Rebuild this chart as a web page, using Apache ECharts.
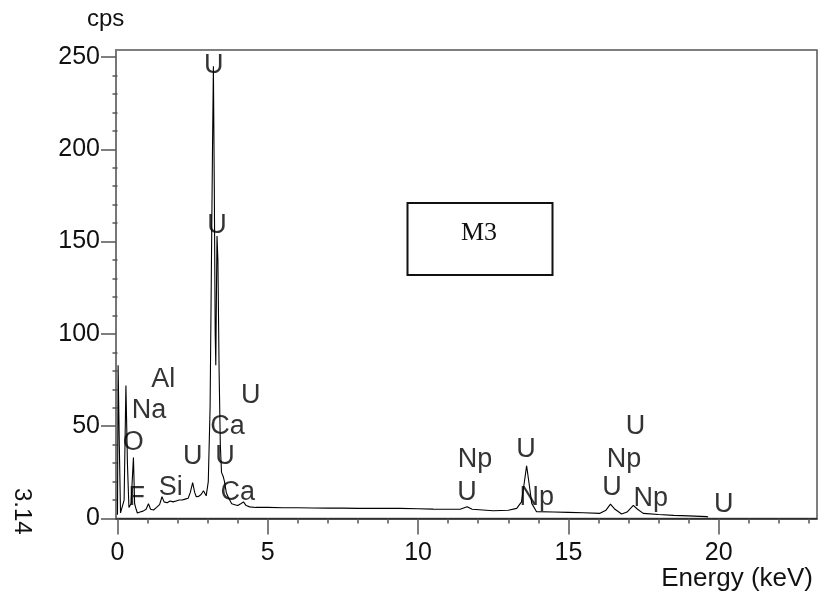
<!DOCTYPE html>
<html>
<head>
<meta charset="utf-8">
<script src="https://cdn.jsdelivr.net/npm/echarts@6/dist/echarts.min.js"></script>
<style>html,body{margin:0;padding:0;background:#fff}#c{width:818px;height:600px}</style>
</head>
<body>
<div id="c"></div>
<script>
// Spectrum (energy in keV, counts per second)
const energy = [0.00,0.02,0.06,0.10,0.15,0.22,0.28,0.33,0.38,0.45,0.53,0.57,0.62,0.66,0.75,0.85,0.95,1.03,1.10,1.20,1.30,1.40,1.48,1.55,1.65,1.75,1.85,1.95,2.05,2.15,2.25,2.35,2.42,2.50,2.57,2.62,2.70,2.78,2.86,2.95,3.02,3.08,3.12,3.16,3.19,3.22,3.25,3.27,3.29,3.31,3.34,3.38,3.42,3.46,3.52,3.56,3.62,3.70,3.80,3.90,4.00,4.10,4.19,4.28,4.40,4.60,5.00,5.50,6.00,6.50,7.00,7.50,8.00,8.50,9.00,9.40,10.00,10.50,11.00,11.40,11.63,11.80,12.50,13.00,13.28,13.44,13.52,13.61,13.70,13.78,13.94,14.50,15.00,15.50,16.05,16.25,16.40,16.55,16.77,16.95,17.16,17.30,17.49,18.00,18.50,19.00,19.60,19.65];
const cps = [2,83,40,3,2,10,72,30,6,8,33,8,5,3,3.5,4,5,8,5,4.6,6,7.5,11.8,9,8.5,9.5,9,9.5,10,10,10.5,11,14,19.4,14,11.8,12,13,15,12.3,20,60,130,200,245,180,100,83,120,153,140,80,40,25,22.6,20,14,11,8,7.5,7,8,9,7,6.3,6,6,5.8,5.8,5.7,5.6,5.6,5.5,5.5,5.5,5.5,5.3,5.1,5,5,6.4,5,4.2,4.5,5.5,9,18,28.6,18,8.2,3.7,3.5,3.3,3.1,2.8,4.5,7.8,5,2.4,3.5,7.1,5,2.8,2.2,1.7,1.4,1,0.8];

// Peak annotations
const peakNames = ['U','U','Al','Na','O','F','Si','U','U','Ca','U','Ca','Np','U','U','Np','U','Np','U','Np','U'];
const peakEnergy = [3.20,3.31,1.52,1.05,0.52,0.64,1.77,2.50,4.43,3.66,3.58,4.00,11.89,11.63,13.59,13.95,16.45,16.85,17.23,17.74,20.17];
const peakCps = [245.4,158.8,75.5,58.4,41.4,11.4,16.8,33.3,66.8,49.8,33.3,14.3,31.7,14.3,37.1,11.6,16.5,31.7,50,10.6,7.3];

// Axis ticks
const xMajor = [0,5,10,15,20];
const xMinor = [1,2,3,4,6,7,8,9,11,12,13,14,16,17,18,19,21,22,23];
const yMajor = [0,50,100,150,200,250];
const yMinor = [10,20,30,40,60,70,80,90,110,120,130,140,160,170,180,190,210,220,230,240];

const xMin = -0.05, xMax = 23.27, yMin = 0, yMax = 253.8;

const chart = echarts.init(document.getElementById('c'), null, {renderer: 'canvas'});
const font = '"Liberation Sans", Arial, sans-serif';
const tickColor = '#555';

chart.setOption({
  animation: false,
  backgroundColor: '#fff',
  grid: {left: 116, right: 1, top: 50, bottom: 81.5, show: true, borderColor: '#555', borderWidth: 1.5},
  xAxis: [
    {type: 'value', min: xMin, max: xMax, position: 'bottom',
     axisLine: {show: true, onZero: false, lineStyle: {color: '#222', width: 1.5}},
     axisTick: {show: true, length: 16, customValues: xMajor, lineStyle: {color: tickColor, width: 1.5}},
     axisLabel: {show: true, customValues: xMajor, margin: 22, color: '#111', fontSize: 25, fontFamily: font},
     splitLine: {show: false}},
    {type: 'value', min: xMin, max: xMax, position: 'bottom',
     axisLine: {show: false},
     axisTick: {show: true, length: 5, customValues: xMinor, lineStyle: {color: tickColor, width: 1.5}},
     axisLabel: {show: false}, splitLine: {show: false}}
  ],
  yAxis: [
    {type: 'value', min: yMin, max: yMax, position: 'left',
     axisLine: {show: true, onZero: false, lineStyle: {color: '#777', width: 2}},
     axisTick: {show: true, length: 15, customValues: yMajor, lineStyle: {color: tickColor, width: 1.5}},
     axisLabel: {show: true, customValues: yMajor, margin: 16, color: '#111', fontSize: 25, fontFamily: font},
     splitLine: {show: false}},
    {type: 'value', min: yMin, max: yMax, position: 'left',
     axisLine: {show: false},
     axisTick: {show: true, length: 5, customValues: yMinor, lineStyle: {color: tickColor, width: 1.5}},
     axisLabel: {show: false}, splitLine: {show: false}}
  ],
  series: [
    {type: 'line', xAxisIndex: 0, yAxisIndex: 0, showSymbol: false, symbol: 'none',
     lineStyle: {color: '#000', width: 1.1}, data: energy.map((e, i) => [e, cps[i]]), z: 3},
    {type: 'scatter', xAxisIndex: 0, yAxisIndex: 0, symbolSize: 0, z: 4,
     data: peakNames.map((n, i) => [peakEnergy[i], peakCps[i], n]),
     label: {show: true, position: 'inside', formatter: p => p.value[2], color: '#000', fontSize: 27, fontFamily: font}}
  ],
  graphic: [
    {type: 'text', left: 87, top: 7, style: {text: 'cps', fontSize: 24, fontFamily: font, fill: '#111'}},
    {type: 'text', right: 5, top: 566, style: {text: 'Energy (keV)', fontSize: 26, fontFamily: font, fill: '#111'}},
    {type: 'text', x: 34, y: 488, rotation: -Math.PI / 2, style: {text: '3.14', fontSize: 24, fontFamily: font, fill: '#111'}},
    {type: 'rect', shape: {x: 407.5, y: 203, width: 145, height: 72}, style: {fill: '#fff', stroke: '#111', lineWidth: 2}},
    {type: 'text', x: 479, y: 233, style: {text: 'M3', fontSize: 26, fontFamily: '"Liberation Serif", "Times New Roman", serif', fill: '#111', align: 'center', verticalAlign: 'middle'}}
  ]
});
</script>
</body>
</html>
